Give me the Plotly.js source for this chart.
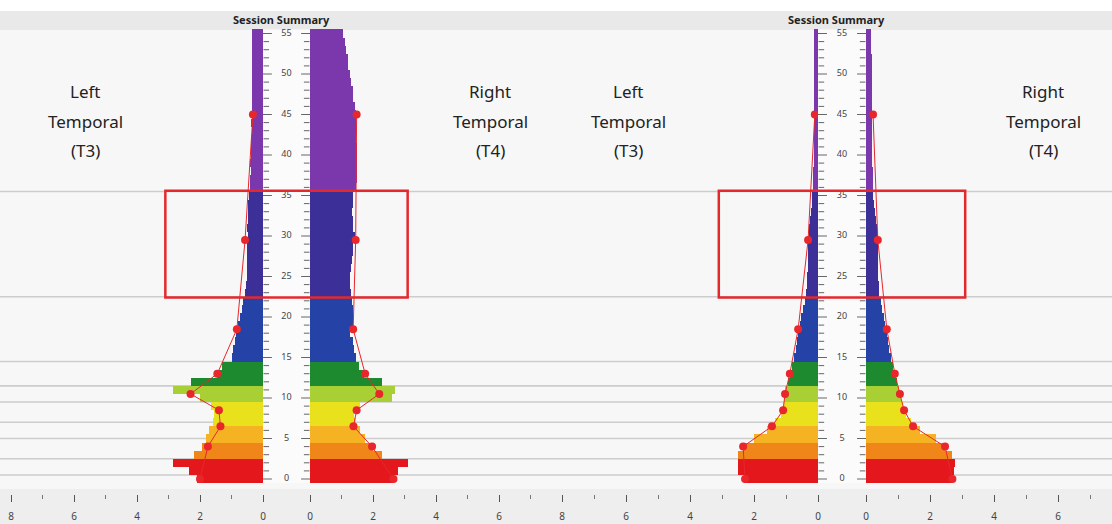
<!DOCTYPE html>
<html><head><meta charset="utf-8">
<script src="https://cdn.plot.ly/plotly-3.0.1.min.js"></script>
<style>html,body{margin:0;padding:0;background:#fff;}#chart{width:1112px;height:524px;}</style>
</head><body><div id="chart"></div>
<script>
// ---- data (frequency bins in Hz, amplitude values) ----
const FREQS = [0,1,2,3,4,5,6,7,8,9,10,11,12,13,14,15,16,17,18,19,20,21,22,23,24,25,26,27,28,29,30,31,32,33,34,35,36,37,38,39,40,41,42,43,44,45,46,47,48,49,50,51,52,53,54,55];
const BEFORE_T3 = [2.1,2.35,2.85,2.2,1.95,1.8,1.7,1.6,1.55,1.65,2.0,2.85,2.3,1.45,1.3,1.0,0.95,0.9,0.85,0.8,0.72,0.68,0.62,0.58,0.55,0.52,0.5,0.5,0.52,0.5,0.48,0.5,0.48,0.47,0.48,0.46,0.42,0.4,0.38,0.4,0.38,0.37,0.38,0.36,0.37,0.35,0.36,0.35,0.36,0.35,0.34,0.35,0.34,0.35,0.34,0.34];
const BEFORE_T4 = [2.65,2.8,3.1,2.3,2.0,1.75,1.6,1.45,1.4,1.6,2.6,2.7,2.3,1.7,1.55,1.45,1.4,1.35,1.27,1.38,1.36,1.35,1.32,1.3,1.28,1.27,1.3,1.32,1.35,1.38,1.42,1.38,1.35,1.33,1.35,1.38,1.45,1.48,1.5,1.5,1.5,1.5,1.47,1.45,1.46,1.47,1.42,1.38,1.35,1.3,1.27,1.22,1.2,1.15,1.1,1.05];
const AFTER_T3 = [2.3,2.5,2.5,2.5,2.35,2.0,1.6,1.35,1.15,1.1,1.05,1.02,0.95,0.88,0.8,0.74,0.7,0.66,0.62,0.57,0.52,0.46,0.41,0.38,0.35,0.33,0.32,0.31,0.31,0.3,0.29,0.27,0.25,0.22,0.2,0.18,0.16,0.15,0.15,0.14,0.14,0.13,0.13,0.12,0.12,0.12,0.12,0.12,0.11,0.11,0.11,0.11,0.11,0.11,0.11,0.11];
const AFTER_T4 = [2.7,2.75,2.78,2.7,2.47,2.2,1.7,1.4,1.25,1.15,1.08,1.04,0.98,0.9,0.83,0.77,0.73,0.69,0.66,0.6,0.55,0.5,0.46,0.42,0.4,0.39,0.38,0.38,0.37,0.37,0.36,0.33,0.3,0.27,0.24,0.22,0.21,0.21,0.21,0.2,0.2,0.2,0.2,0.2,0.2,0.2,0.2,0.19,0.19,0.19,0.18,0.18,0.18,0.17,0.17,0.17];

const DOT_FREQS = [0,4,6.5,8.5,10.5,13,18.5,29.5,45];
const BEFORE_T3_DOTS = [2.0,1.75,1.35,1.4,2.3,1.45,0.83,0.57,0.32];
const BEFORE_T4_DOTS = [2.65,1.97,1.38,1.48,2.2,1.75,1.37,1.45,1.48];
const AFTER_T3_DOTS = [2.28,2.34,1.44,1.09,1.03,0.88,0.62,0.31,0.1];
const AFTER_T4_DOTS = [2.7,2.47,1.47,1.19,1.06,0.9,0.65,0.37,0.22];

const FREQ_TICKS = [0,5,10,15,20,25,30,35,40,45,50,55];
const AMP_TICKS = [0,2,4,6,8];
const BAND_STARTS = [0,3,5,7,10,12,15,23,36];
const BAND_COLORS = ['#e4181c','#f0861a','#f5b323','#e8e11c','#a8cf33','#1d8a30','#2542a6','#3d2f98','#7b38ad'];
const GUIDE_FREQS = [0.5,2.5,5,7,9.5,11.5,14.5,22.5,35.5];
const HIGHLIGHT = [22.4,35.6];
const HIGHLIGHT_SPAN = 3.1;
const TITLE_TEXT = 'Session Summary';
const LEFT_LABEL = ['Left','Temporal','(T3)'];
const RIGHT_LABEL = ['Right','Temporal','(T4)'];

// ---- layout geometry (pixels) ----
const W = 1112, H = 524;
const Y_ZERO_PX = 479, Y_SCALE = 8.1;
const PANELS = [
  {lz:263, rz:310, s:31.5, l0:0, r1:560, title:281, labL:85, labR:490, t3:BEFORE_T3, t4:BEFORE_T4, d3:BEFORE_T3_DOTS, d4:BEFORE_T4_DOTS},
  {lz:818, rz:866, s:32, l0:560, r1:1112, title:836, labL:628, labR:1043, t3:AFTER_T3, t4:AFTER_T4, d3:AFTER_T3_DOTS, d4:AFTER_T4_DOTS}
];
const px = v => v / W;
const py = v => 1 - v / H;
const bandColor = f => { let c = BAND_COLORS[0]; BAND_STARTS.forEach((b,i)=>{ if (f >= b) c = BAND_COLORS[i]; }); return c; };
const barColors = FREQS.map(bandColor);

const yRange = [(Y_ZERO_PX - H) / Y_SCALE, Y_ZERO_PX / Y_SCALE];

const traces = [];
const layout = {
  width: W, height: H, margin: {l:0, r:0, t:0, b:0},
  paper_bgcolor: '#f7f7f7', plot_bgcolor: 'rgba(0,0,0,0)',
  showlegend: false, bargap: 0,
  font: {family: 'Noto Sans, sans-serif', color: '#333'},
  yaxis: {domain:[0,1], range: yRange, visible:false, fixedrange:true, anchor:'free', position:0},
  shapes: [], annotations: []
};

const axisCommon = {
  anchor: 'free', position: (H - 494) / H, showgrid: false, zeroline: false, showline: false,
  ticks: 'outside', ticklen: 7, tickwidth: 1, tickcolor: '#555',
  tickmode: 'array', tickvals: AMP_TICKS, ticktext: AMP_TICKS.map(String),
  tickfont: {size: 10, color: '#444', family: 'Noto Sans, sans-serif'},
  ticklabelstandoff: 6,
  minor: {dtick: 1, tick0: 0, ticks: 'outside', ticklen: 4, tickcolor: '#777'},
  fixedrange: true
};

// background shapes
layout.shapes.push({type:'rect', xref:'paper', yref:'paper', x0:0, x1:1, y0:py(11), y1:1, fillcolor:'#ffffff', line:{width:0}, layer:'below'});
layout.shapes.push({type:'rect', xref:'paper', yref:'paper', x0:0, x1:1, y0:py(30), y1:py(11), fillcolor:'#e9e9e9', line:{width:0}, layer:'below'});
layout.shapes.push({type:'rect', xref:'paper', yref:'paper', x0:0, x1:1, y0:0, y1:py(489), fillcolor:'#eeeeee', line:{width:0}, layer:'below'});
GUIDE_FREQS.forEach(f => layout.shapes.push({type:'line', xref:'paper', yref:'y', x0:0, x1:1, y0:f, y1:f, line:{color:'#cdcdcd', width:1.6}, layer:'below'}));

PANELS.forEach((p, i) => {
  const n = i * 3;
  const xl = 'x' + (n + 1 === 1 ? '' : n + 1), xr = 'x' + (n + 2), xc = 'x' + (n + 3);
  const kl = 'xaxis' + (n + 1 === 1 ? '' : n + 1), kr = 'xaxis' + (n + 2), kc = 'xaxis' + (n + 3);
  layout[kl] = Object.assign({}, axisCommon, {domain:[px(p.l0), px(p.lz)], range:[(p.lz - p.l0) / p.s, 0]});
  layout[kr] = Object.assign({}, axisCommon, {domain:[px(p.rz), px(p.r1)], range:[0, (p.r1 - p.rz) / p.s]});
  layout[kc] = {domain:[px(p.lz), px(p.rz)], range:[0,1], visible:false, anchor:'free', position:0, fixedrange:true};

  // centre strip
  layout.shapes.push({type:'rect', xref:'paper', yref:'y', x0:px(p.lz), x1:px(p.rz), y0:-0.5, y1:55.5, fillcolor:'#fbfbfb', line:{width:0}, layer:'below'});

  traces.push({type:'bar', orientation:'h', xaxis:xl, yaxis:'y', y:FREQS, x:p.t3, width:1, marker:{color:barColors, line:{width:0}}, hoverinfo:'x+y'});
  traces.push({type:'bar', orientation:'h', xaxis:xr, yaxis:'y', y:FREQS, x:p.t4, width:1, marker:{color:barColors, line:{width:0}}, hoverinfo:'x+y'});
  const dotStyle = {mode:'lines+markers', line:{color:'#e8262b', width:1}, marker:{color:'#e8262b', size:8}};
  traces.push(Object.assign({type:'scatter', xaxis:xl, yaxis:'y', x:p.d3, y:DOT_FREQS}, dotStyle));
  traces.push(Object.assign({type:'scatter', xaxis:xr, yaxis:'y', x:p.d4, y:DOT_FREQS}, dotStyle));

  // centre frequency scale: tick dashes + labels
  const minorF = FREQS.filter(f => f % 5 !== 0);
  const majorF = FREQS.filter(f => f % 5 === 0);
  [[minorF, 4], [majorF, 8]].forEach(([fs, sz]) => {
    [0.07, 0.93].forEach(xv => traces.push({type:'scatter', mode:'markers', xaxis:xc, yaxis:'y', x:fs.map(()=>xv), y:fs,
      marker:{symbol:'line-ew', size:sz, line:{color:'#666', width:1}}, hoverinfo:'skip'}));
  });
  traces.push({type:'scatter', mode:'text', xaxis:xc, yaxis:'y', x:FREQ_TICKS.map(()=>0.5), y:FREQ_TICKS, text:FREQ_TICKS.map(String),
    textfont:{size:9, color:'#444', family:'Noto Sans, sans-serif'}, hoverinfo:'skip'});

  // highlight box
  const xa = px(p.lz - HIGHLIGHT_SPAN * p.s), xb = px(p.rz + HIGHLIGHT_SPAN * p.s);
  layout.shapes.push({type:'rect', xref:'paper', yref:'y', x0:xa, x1:xb, y0:HIGHLIGHT[0], y1:HIGHLIGHT[1], line:{color:'#e5282c', width:2.5}, fillcolor:'rgba(0,0,0,0)', layer:'above'});

  // titles & labels
  layout.annotations.push({xref:'paper', yref:'paper', x:px(p.title), y:py(20), xanchor:'center', yanchor:'middle', text:'<b>' + TITLE_TEXT + '</b>', showarrow:false, font:{size:11, color:'#222', family:'Noto Sans, sans-serif'}});
  [[LEFT_LABEL, p.labL], [RIGHT_LABEL, p.labR]].forEach(([lines, xx]) => {
    lines.forEach((t, k) => layout.annotations.push({xref:'paper', yref:'paper', x:px(xx), y:py(92 + 29 * k), xanchor:'center', yanchor:'middle', text:t, showarrow:false,
      font:{size:17, color:'#222', family:'Noto Sans, sans-serif'}}));
  });
});

Plotly.newPlot('chart', traces, layout, {staticPlot:true, displayModeBar:false});
</script></body></html>
